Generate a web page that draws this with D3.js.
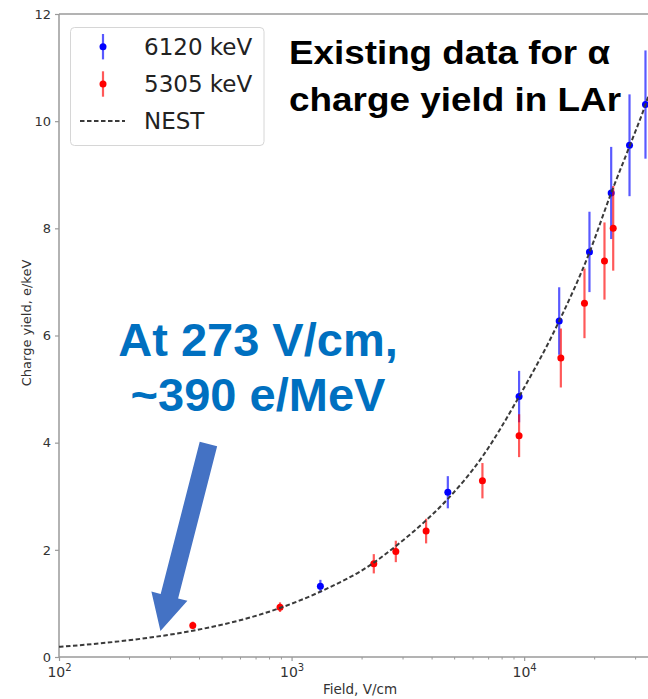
<!DOCTYPE html>
<html>
<head>
<meta charset="utf-8">
<script src="https://cdn.jsdelivr.net/npm/d3@7/dist/d3.min.js"></script>
<style>
  html, body { margin: 0; padding: 0; background: #fff; }
  svg { display: block; }
</style>
</head>
<body>
<script>
// Alpha-particle charge yield in liquid argon versus drift field

// 6120 keV alpha measurements
const blueField = [1330, 4697, 9510, 14146, 19090, 23670, 28380, 33240];
const blueYield = [1.32, 3.075, 4.86, 6.27, 7.56, 8.66, 9.55, 10.31];
const blueErr   = [0.12, 0.30, 0.48, 0.63, 0.75, 0.86, 0.95, 1.01];

// 5305 keV alpha measurements
const redField = [376, 892, 2257, 2807, 3788, 6616, 9510, 14380, 18170, 22150, 24150];
const redYield = [0.59, 0.93, 1.74, 1.97, 2.35, 3.29, 4.13, 5.58, 6.60, 7.39, 8.00];
const redErr   = [0.07, 0.09, 0.18, 0.20, 0.23, 0.33, 0.40, 0.55, 0.65, 0.72, 0.79];

// NEST model curve
const nestField = [100, 150, 246, 376, 892, 1330, 2257, 2807, 3788, 4697, 6616, 9510, 14146, 19090, 23670, 28380, 33240, 38000];
const nestYield = [0.19, 0.254, 0.363, 0.49, 0.915, 1.22, 1.76, 2.07, 2.55, 2.95, 3.74, 4.86, 6.27, 7.55, 8.66, 9.53, 10.31, 11.1];

// Axis ticks
const yTicks = [0, 2, 4, 6, 8, 10, 12];
const xDecades = [2, 3, 4];

// Legend entries
const legendLabels = ["6120 keV", "5305 keV", "NEST"];

// Annotation text
const titleLines = ["Existing data for α", "charge yield in LAr"];
const noteLines = ["At 273 V/cm,", "~390 e/MeV"];
const noteField = 273;
const noteYield = 0.39;

const W = 648, H = 699;
const svg = d3.select("body").append("svg").attr("width", W).attr("height", H);

const x = d3.scaleLog().domain([100, 38000]).range([59, 659]);
const y = d3.scaleLinear().domain([0, 12]).range([657, 14]);

const font = "'DejaVu Sans', sans-serif";
const spineColor = "#9a9a9a";
const tickText = "#333";

// Plot frame (left, bottom, top spines)
const frame = svg.append("g");
frame.append("line").attr("x1", x.range()[0]).attr("x2", x.range()[0])
  .attr("y1", y(0)).attr("y2", y(12)).attr("stroke", spineColor).attr("stroke-width", 1.5);
frame.append("line").attr("x1", x.range()[0]).attr("x2", x.range()[1])
  .attr("y1", y(0)).attr("y2", y(0)).attr("stroke", spineColor).attr("stroke-width", 1.5);
frame.append("line").attr("x1", x.range()[0]).attr("x2", x.range()[1])
  .attr("y1", y(12)).attr("y2", y(12)).attr("stroke", spineColor).attr("stroke-width", 1.5);

// Y axis
const yAxis = svg.append("g").attr("transform", `translate(${x.range()[0]},0)`)
  .call(d3.axisLeft(y).tickValues(yTicks).tickSize(4).tickPadding(4).tickFormat(d3.format("d")));
yAxis.select(".domain").remove();
yAxis.selectAll(".tick line").attr("stroke", spineColor).attr("stroke-width", 1.2);
yAxis.selectAll(".tick text").attr("fill", tickText).style("font-family", font).style("font-size", "13px");

// X axis: major decades and minor ticks
const majors = xDecades.map(d => Math.pow(10, d));
const minors = [];
xDecades.forEach(d => { for (let m = 2; m <= 9; m++) { const v = m * Math.pow(10, d); if (v <= x.domain()[1]) minors.push(v); } });

const xAxis = svg.append("g").attr("transform", `translate(0,${y(0)})`);
xAxis.call(d3.axisBottom(x).tickValues(minors).tickSize(2.5).tickFormat(""));
xAxis.select(".domain").remove();
xAxis.selectAll(".tick line").attr("stroke", spineColor).attr("stroke-width", 1);

const xMajor = svg.append("g").attr("transform", `translate(0,${y(0)})`)
  .call(d3.axisBottom(x).tickValues(majors).tickSize(4).tickFormat(""));
xMajor.select(".domain").remove();
xMajor.selectAll(".tick line").attr("stroke", spineColor).attr("stroke-width", 1.2);
xMajor.selectAll(".tick").each(function(d, i) {
  const t = d3.select(this).append("text")
    .attr("y", 20).attr("text-anchor", "middle").attr("fill", tickText)
    .style("font-family", font).style("font-size", "14px");
  t.append("tspan").text("10");
  t.append("tspan").attr("dy", -6).style("font-size", "10px").text(xDecades[i]);
});

// Axis titles
svg.append("text").attr("transform", "translate(31,323) rotate(-90)")
  .attr("text-anchor", "middle").attr("fill", tickText)
  .style("font-family", font).style("font-size", "13px").text("Charge yield, e/keV");
svg.append("text").attr("x", 360).attr("y", 694)
  .attr("text-anchor", "middle").attr("fill", tickText)
  .style("font-family", font).style("font-size", "13.5px").text("Field, V/cm");

// Error-bar series
function drawSeries(fields, yields, errs, color) {
  const g = svg.append("g");
  const pts = fields.map((f, i) => ({ f, v: yields[i], e: errs[i] }));
  g.selectAll("line.err").data(pts).join("line").attr("class", "err")
    .attr("x1", d => x(d.f)).attr("x2", d => x(d.f))
    .attr("y1", d => y(d.v - d.e)).attr("y2", d => y(d.v + d.e))
    .attr("stroke", color).attr("stroke-opacity", 0.65).attr("stroke-width", 2.2);
  g.selectAll("circle").data(pts).join("circle")
    .attr("cx", d => x(d.f)).attr("cy", d => y(d.v)).attr("r", 3.5)
    .attr("fill", color);
}
drawSeries(blueField, blueYield, blueErr, "#0000ff");
drawSeries(redField, redYield, redErr, "#ff0000");

// NEST curve
const nestPts = nestField.map((f, i) => [f, nestYield[i]]);
svg.append("path").datum(nestPts)
  .attr("d", d3.line().x(d => x(d[0])).y(d => y(d[1])).curve(d3.curveMonotoneX))
  .attr("fill", "none").attr("stroke", "#3a3a3a").attr("stroke-width", 2)
  .attr("stroke-dasharray", "4.5,2.5");

// Legend
const lg = svg.append("g");
lg.append("rect").attr("x", 70.5).attr("y", 27.5).attr("width", 193.5).attr("height", 118)
  .attr("rx", 4).attr("fill", "#fff").attr("fill-opacity", 0.85)
  .attr("stroke", "#d6d6d6").attr("stroke-width", 1);
const legendRows = [46.7, 84, 121];
const legendColors = ["#0000ff", "#ff0000"];
legendColors.forEach((c, i) => {
  lg.append("line").attr("x1", 103).attr("x2", 103)
    .attr("y1", legendRows[i] - 12.7).attr("y2", legendRows[i] + 12.7)
    .attr("stroke", c).attr("stroke-opacity", 0.65).attr("stroke-width", 2.2);
  lg.append("circle").attr("cx", 103).attr("cy", legendRows[i]).attr("r", 3.5).attr("fill", c);
});
lg.append("line").attr("x1", 80).attr("x2", 125).attr("y1", legendRows[2]).attr("y2", legendRows[2])
  .attr("stroke", "#3a3a3a").attr("stroke-width", 2).attr("stroke-dasharray", "4.5,2.5");
legendLabels.forEach((t, i) => {
  lg.append("text").attr("x", 144).attr("y", legendRows[i] + 8.3)
    .attr("fill", "#222").style("font-family", font).style("font-size", "23px").text(t);
});

// Slide annotations
const bold = "'Liberation Sans', Arial, Helvetica, sans-serif";
const titleWidths = [321, 332];
titleLines.forEach((t, i) => {
  svg.append("text").attr("x", 289).attr("y", 64 + i * 47)
    .attr("textLength", titleWidths[i]).attr("lengthAdjust", "spacingAndGlyphs")
    .attr("fill", "#000").style("font-family", bold).style("font-weight", "bold")
    .style("font-size", "33px").text(t);
});

noteLines.forEach((t, i) => {
  svg.append("text").attr("x", 258).attr("y", 356 + i * 55)
    .attr("text-anchor", "middle").attr("fill", "#0070c0")
    .style("font-family", bold).style("font-weight", "bold")
    .style("font-size", "47px").text(t);
});

// Arrow pointing at the 273 V/cm operating point
const tip = [x(noteField), y(noteYield) - 5];
const tail = [tip[0] + 48, tip[1] - 187];
const dx = tail[0] - tip[0], dy = tail[1] - tip[1];
const len = Math.hypot(dx, dy);
const ux = dx / len, uy = dy / len;      // toward tail
const px = -uy, py = ux;                  // perpendicular
const headLen = 36, headHalf = 18.6, shaftHalf = 9;
const base = [tip[0] + ux * headLen, tip[1] + uy * headLen];
const arrowPts = [
  tip,
  [base[0] + px * headHalf, base[1] + py * headHalf],
  [base[0] + px * shaftHalf, base[1] + py * shaftHalf],
  [tail[0] + px * shaftHalf, tail[1] + py * shaftHalf],
  [tail[0] - px * shaftHalf, tail[1] - py * shaftHalf],
  [base[0] - px * shaftHalf, base[1] - py * shaftHalf],
  [base[0] - px * headHalf, base[1] - py * headHalf]
];
svg.append("path").attr("d", d3.line()(arrowPts) + "Z").attr("fill", "#4472c4");
</script>
</body>
</html>
